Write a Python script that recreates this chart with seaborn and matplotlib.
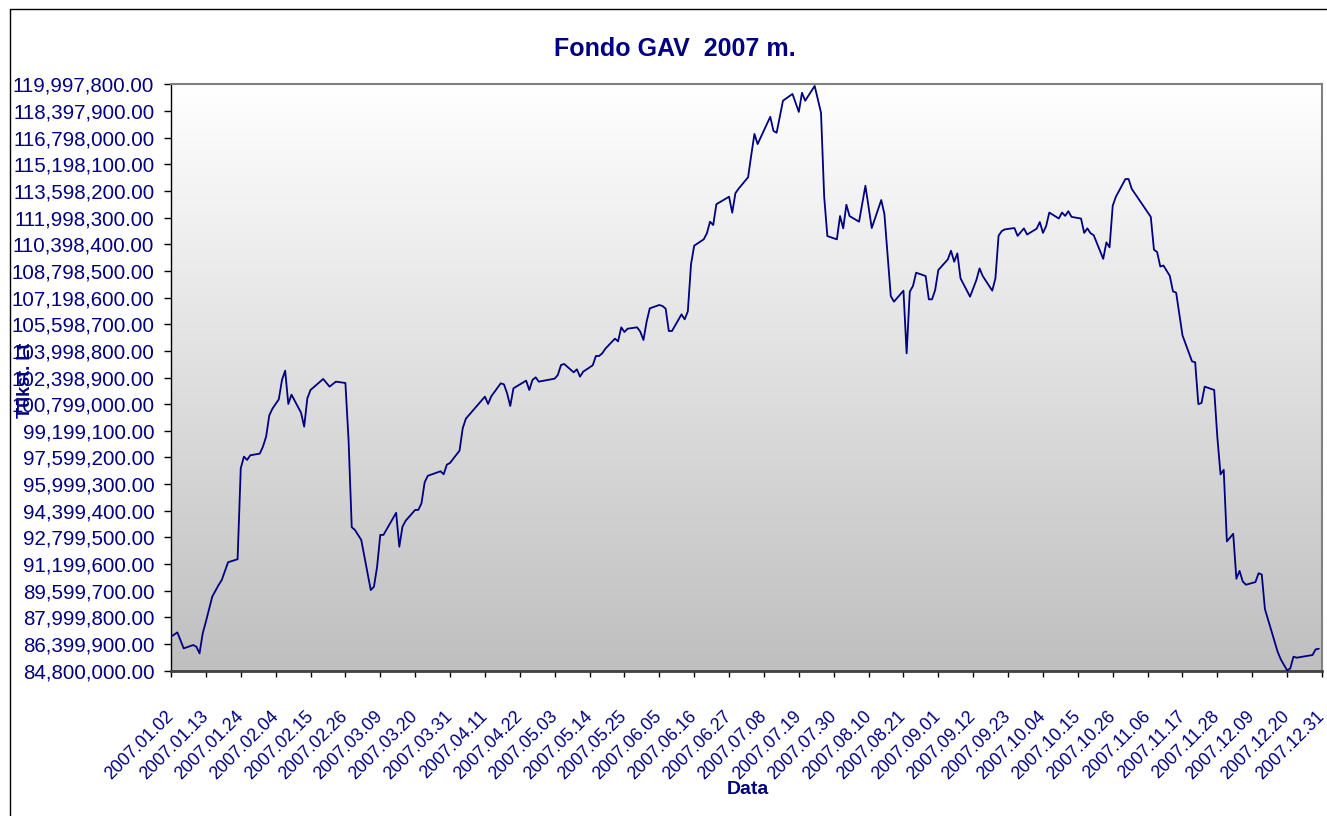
import numpy as np
import pandas as pd
import matplotlib
matplotlib.use('Agg')
import matplotlib.pyplot as plt
from matplotlib.colors import LinearSegmentedColormap
from matplotlib.lines import Line2D
import seaborn as sns

sns.set_style('white')
plt.rcParams['font.family'] = ['Liberation Sans', 'DejaVu Sans']

# fund value, millions of litas
dates = [
    '2007-01-02', '2007-01-04', '2007-01-06', '2007-01-09', '2007-01-10', '2007-01-11', '2007-01-12',
    '2007-01-13', '2007-01-15', '2007-01-17', '2007-01-18', '2007-01-20', '2007-01-23', '2007-01-24',
    '2007-01-25', '2007-01-26', '2007-01-27', '2007-01-30', '2007-01-31', '2007-02-01', '2007-02-02',
    '2007-02-03', '2007-02-05', '2007-02-06', '2007-02-07', '2007-02-08', '2007-02-09', '2007-02-12',
    '2007-02-13', '2007-02-14', '2007-02-15', '2007-02-19', '2007-02-21', '2007-02-23', '2007-02-26',
    '2007-02-27', '2007-02-28', '2007-03-01', '2007-03-03', '2007-03-06', '2007-03-07', '2007-03-08',
    '2007-03-09', '2007-03-10', '2007-03-14', '2007-03-15', '2007-03-16', '2007-03-17', '2007-03-20',
    '2007-03-21', '2007-03-22', '2007-03-23', '2007-03-24', '2007-03-28', '2007-03-29', '2007-03-30',
    '2007-03-31', '2007-04-03', '2007-04-04', '2007-04-05', '2007-04-11', '2007-04-12', '2007-04-13',
    '2007-04-16', '2007-04-17', '2007-04-18', '2007-04-19', '2007-04-20', '2007-04-24', '2007-04-25',
    '2007-04-26', '2007-04-27', '2007-04-28', '2007-05-03', '2007-05-04', '2007-05-05', '2007-05-06',
    '2007-05-09', '2007-05-10', '2007-05-11', '2007-05-12', '2007-05-15', '2007-05-16', '2007-05-17',
    '2007-05-18', '2007-05-19', '2007-05-22', '2007-05-23', '2007-05-24', '2007-05-25', '2007-05-26',
    '2007-05-29', '2007-05-30', '2007-05-31', '2007-06-01', '2007-06-02', '2007-06-05', '2007-06-06',
    '2007-06-07', '2007-06-08', '2007-06-09', '2007-06-12', '2007-06-13', '2007-06-14', '2007-06-15',
    '2007-06-16', '2007-06-19', '2007-06-20', '2007-06-21', '2007-06-22', '2007-06-23', '2007-06-27',
    '2007-06-28', '2007-06-29', '2007-06-30', '2007-07-03', '2007-07-04', '2007-07-05', '2007-07-06',
    '2007-07-10', '2007-07-11', '2007-07-12', '2007-07-14', '2007-07-17', '2007-07-19', '2007-07-20',
    '2007-07-21', '2007-07-24', '2007-07-25', '2007-07-26', '2007-07-27', '2007-07-28', '2007-07-31',
    '2007-08-01', '2007-08-02', '2007-08-03', '2007-08-04', '2007-08-07', '2007-08-09', '2007-08-11',
    '2007-08-14', '2007-08-15', '2007-08-17', '2007-08-18', '2007-08-21', '2007-08-22', '2007-08-23',
    '2007-08-24', '2007-08-25', '2007-08-28', '2007-08-29', '2007-08-30', '2007-08-31', '2007-09-01',
    '2007-09-04', '2007-09-05', '2007-09-06', '2007-09-07', '2007-09-08', '2007-09-11', '2007-09-13',
    '2007-09-14', '2007-09-15', '2007-09-18', '2007-09-19', '2007-09-20', '2007-09-21', '2007-09-22',
    '2007-09-25', '2007-09-26', '2007-09-28', '2007-09-29', '2007-10-02', '2007-10-03', '2007-10-04',
    '2007-10-05', '2007-10-06', '2007-10-09', '2007-10-10', '2007-10-11', '2007-10-12', '2007-10-13',
    '2007-10-16', '2007-10-17', '2007-10-18', '2007-10-19', '2007-10-20', '2007-10-23', '2007-10-24',
    '2007-10-25', '2007-10-26', '2007-10-27', '2007-10-30', '2007-10-31', '2007-11-01', '2007-11-07',
    '2007-11-08', '2007-11-09', '2007-11-10', '2007-11-11', '2007-11-13', '2007-11-14', '2007-11-15',
    '2007-11-17', '2007-11-20', '2007-11-21', '2007-11-22', '2007-11-23', '2007-11-24', '2007-11-27',
    '2007-11-28', '2007-11-29', '2007-11-30', '2007-12-01', '2007-12-03', '2007-12-04', '2007-12-05',
    '2007-12-06', '2007-12-07', '2007-12-10', '2007-12-11', '2007-12-12', '2007-12-13', '2007-12-17',
    '2007-12-18', '2007-12-20', '2007-12-21', '2007-12-22', '2007-12-23', '2007-12-28', '2007-12-29',
    '2007-12-30',
]
value_mln = [
    86.84, 87.10, 86.14, 86.34, 86.24, 85.84, 87.04,
    87.74, 89.24, 89.94, 90.24, 91.31, 91.49, 96.95,
    97.65, 97.45, 97.73, 97.83, 98.25, 98.85, 100.13,
    100.53, 101.09, 102.25, 102.81, 100.81, 101.37, 100.29,
    99.45, 101.15, 101.65, 102.31, 101.85, 102.15, 102.07,
    98.65, 93.41, 93.25, 92.65, 89.64, 89.84, 91.04,
    92.95, 92.95, 94.28, 92.24, 93.44, 93.80, 94.45,
    94.45, 94.85, 96.11, 96.50, 96.77, 96.59, 97.17,
    97.27, 98.01, 99.35, 99.93, 101.25, 100.81, 101.27,
    102.05, 101.99, 101.45, 100.69, 101.75, 102.21, 101.65,
    102.25, 102.41, 102.15, 102.33, 102.55, 103.15, 103.21,
    102.71, 102.89, 102.45, 102.75, 103.13, 103.69, 103.69,
    103.85, 104.13, 104.73, 104.57, 105.41, 105.13, 105.33,
    105.41, 105.15, 104.65, 105.75, 106.55, 106.75, 106.69,
    106.53, 105.19, 105.19, 106.19, 105.89, 106.37, 109.19,
    110.31, 110.69, 111.05, 111.75, 111.55, 112.80, 113.25,
    112.29, 113.46, 113.73, 114.42, 115.75, 117.02, 116.41,
    118.05, 117.20, 117.09, 119.01, 119.42, 118.34, 119.49,
    119.01, 119.90, 119.10, 118.29, 113.25, 110.89, 110.69,
    112.09, 111.35, 112.77, 112.09, 111.75, 113.91, 111.37,
    113.05, 112.20, 107.29, 106.95, 107.61, 103.85, 107.55,
    107.89, 108.69, 108.49, 107.09, 107.09, 107.65, 108.85,
    109.49, 110.01, 109.35, 109.85, 108.35, 107.25, 108.25,
    108.95, 108.49, 107.61, 108.35, 110.91, 111.19, 111.29,
    111.37, 110.90, 111.35, 110.98, 111.33, 111.73, 111.08,
    111.49, 112.30, 111.94, 112.30, 112.10, 112.38, 112.04,
    111.94, 111.08, 111.35, 111.06, 110.94, 109.52, 110.51,
    110.21, 112.71, 113.25, 114.31, 114.31, 113.72, 112.04,
    110.07, 109.93, 109.06, 109.12, 108.50, 107.57, 107.49,
    104.93, 103.37, 103.31, 100.80, 100.87, 101.85, 101.65,
    98.80, 96.58, 96.86, 92.56, 93.02, 90.32, 90.79,
    90.16, 89.96, 90.12, 90.65, 90.57, 88.50, 85.94,
    85.48, 84.82, 84.94, 85.64, 85.58, 85.74, 86.08,
    86.12,
]

# axis settings
y_min, y_max, y_step = 84800000, 119997800, 1599900
x_start, x_end, x_step_days = '2007-01-02', '2007-12-31', 11

navy = '#000080'
W, H = 1327, 816

df = pd.DataFrame({'date': pd.to_datetime(dates), 'value': np.array(value_mln) * 1e6})

fig = plt.figure(figsize=(W / 100, H / 100), dpi=100)
fig.patch.set_facecolor('white')
ax = fig.add_axes([171 / W, 1 - 670.7 / H, (1322 - 171) / W, (670.7 - 84.3) / H])

# grey gradient background like the Excel plot area
cmap = LinearSegmentedColormap.from_list('bg', ['#FFFFFF', '#BFBFBF'])
grad = np.linspace(0, 1, 256).reshape(-1, 1)
ax.imshow(grad, cmap=cmap, aspect='auto', extent=[0, 1, 0, 1],
          transform=ax.transAxes, zorder=0, interpolation='bicubic')

sns.lineplot(data=df, x='date', y='value', estimator=None, color=navy,
             linewidth=1.3, ax=ax, zorder=3)

ax.set_xlim(pd.Timestamp(x_start), pd.Timestamp(x_end))
ax.set_ylim(y_min, y_max)

# y ticks
yticks = np.arange(y_min, y_max + 1, y_step)
ax.set_yticks(yticks)
ax.set_yticklabels([f'{v:,.2f}' for v in yticks], fontsize=14.8, color=navy)

# x ticks every 11 days
xticks = pd.date_range(x_start, x_end, freq=f'{x_step_days}D')
ax.set_xticks(xticks)
ax.set_xticklabels([d.strftime('%Y.%m.%d') for d in xticks], fontsize=12.8, color=navy,
                   rotation=45, ha='right', va='center', rotation_mode='anchor')

ax.tick_params(axis='y', direction='out', length=5, width=1, color='black', pad=7, left=True)
ax.tick_params(axis='x', direction='out', length=4, width=1, color='black', pad=27, bottom=True)

for side, col, lw in [('left', 'black', 1.0), ('bottom', '#404040', 2.0),
                      ('top', '#808080', 1.5), ('right', '#808080', 1.5)]:
    ax.spines[side].set_visible(True)
    ax.spines[side].set_color(col)
    ax.spines[side].set_linewidth(lw)

ax.set_xlabel('')
ax.set_ylabel('')

# titles
fig.text(674.5 / W, 1 - 49 / H, 'Fondo GAV  2007 m.', ha='center', va='center',
         fontsize=18, fontweight='bold', color=navy)
fig.text(748 / W, 1 - 790 / H, 'Data', ha='center', va='center',
         fontsize=14, fontweight='bold', color=navy)
fig.text(25 / W, 1 - 380 / H, 'Tūkst. Lt', ha='center', va='center', rotation=90,
         fontsize=13, fontweight='bold', color=navy)

# outer chart border
fig.add_artist(Line2D([10 / W, 10 / W], [0, 1 - 9 / H], transform=fig.transFigure,
                      color='black', lw=1))
fig.add_artist(Line2D([10 / W, 1], [1 - 9 / H, 1 - 9 / H], transform=fig.transFigure,
                      color='black', lw=1))

fig.savefig('out.png', dpi=100)
